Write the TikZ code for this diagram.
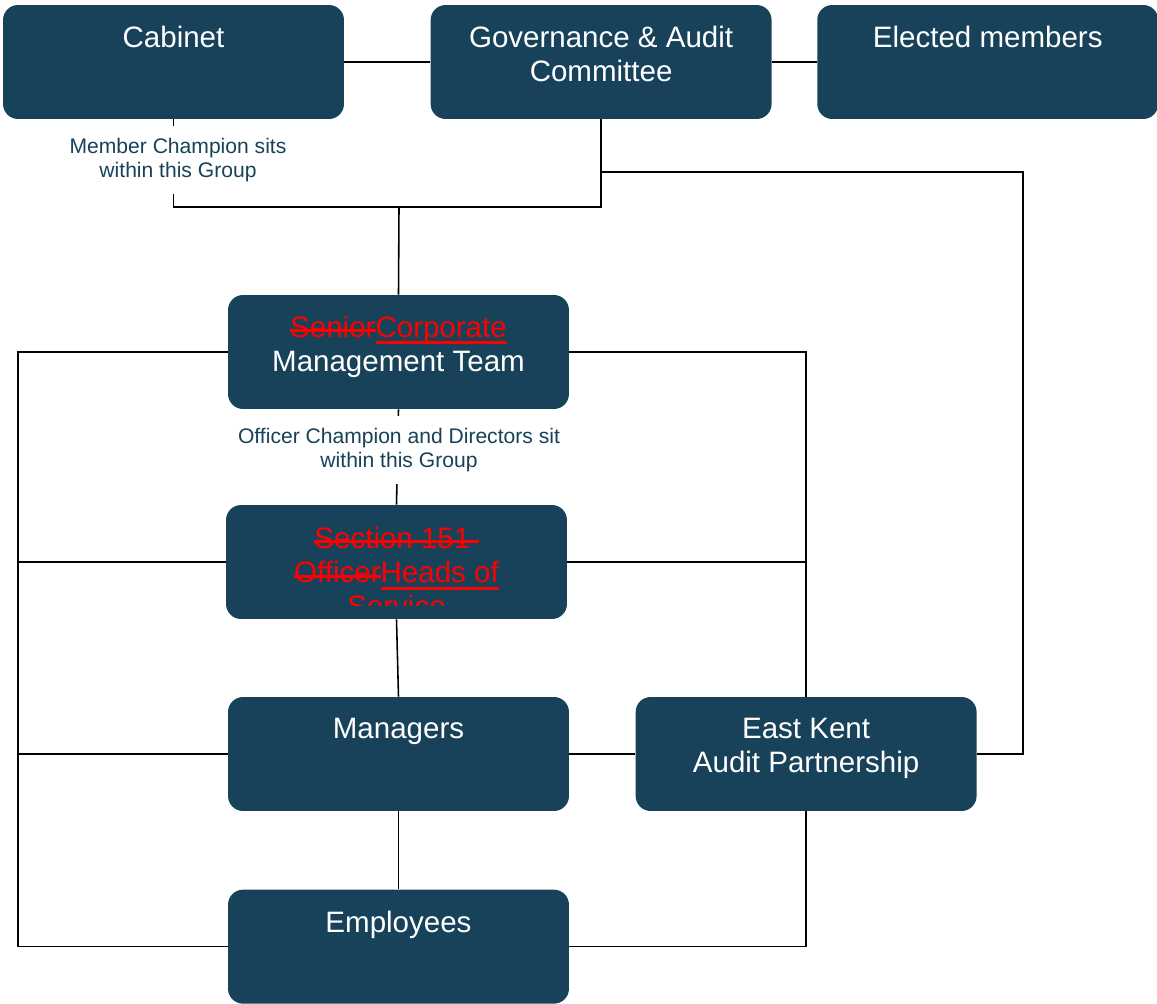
\documentclass[tikz,border=0pt]{standalone}
\usepackage{fontspec}
\setmainfont{Liberation Sans}
\usepackage{tikz}
\usetikzlibrary{positioning}
\definecolor{boxblue}{HTML}{17425A}
\definecolor{markred}{HTML}{FF0000}

% struck out and underlined words of the tracked changes
\newsavebox{\markbox}
\newcommand{\strk}[1]{\sbox{\markbox}{#1}\rlap{\rule[0.18em]{\wd\markbox}{1.7pt}}\usebox{\markbox}}
\newcommand{\undl}[1]{\sbox{\markbox}{#1}\rlap{\rule[-0.23em]{\wd\markbox}{1.7pt}}\usebox{\markbox}}

\tikzset{
	box/.style={rectangle, rounded corners=0.3cm, fill=boxblue, text=white,
		minimum width=6.82cm, minimum height=2.28cm, inner sep=0pt,
		font=\fontsize{16.8}{19.4}\selectfont,
		execute at begin node={\begin{minipage}[t][1.44cm][t]{6.6cm}\centering},
		execute at end node={\end{minipage}}},
	note/.style={fill=white, text=boxblue, align=center, inner sep=0.25cm,
		font=\fontsize{12}{13.6}\selectfont},
	redtext/.style={text=markred, align=center, inner sep=0pt,
		font=\fontsize{16.8}{19.4}\selectfont},
	link/.style={draw=black, line width=0.9pt}
}

\begin{document}
\begin{tikzpicture}[x=0.02cm, y=-0.02cm]
			\useasboundingbox (0,0) rectangle (1157,1004);
			\node [box] (cabinet) at (173.5,62) {Cabinet};
			\node [box, right=1.72cm of cabinet] (gov) {Governance \& Audit\\Committee};
			\node [box, right=0.9cm of gov] (elected) {Elected members};
			\node [box] (cmt) at (398.5,352) {\textcolor{markred}{\strk{Senior}\undl{Corporate}}\\Management Team};
			\node [box] (heads) at (396.5,562) {};
			\node [box] (managers) at (398.5,754) {Managers};
			\node [box, right=1.32cm of managers] (ekap) {East Kent\\Audit Partnership};
			\node [box, below=1.56cm of managers] (employees) {Employees};
			%
			\begin{scope}
				\clip (heads.north west) rectangle ([yshift=0.28cm]heads.south east);
				\node [redtext, anchor=north] (headstext) at (396.5,527) {\strk{Section 151\ }\\\strk{Officer}\undl{Heads of}\\\undl{Service}};
			\end{scope}
			%
			\coordinate (join) at (399,207);
			\coordinate (rbus) at (1023,172);
			\coordinate (lbus) at (18,600);
			%
			\draw [link] (cabinet) -- (gov);
			\draw [link] (gov) -- (elected);
			\draw [link] (cabinet.south) |- (join) -| (gov.south);
			\draw [link] (join) -- (cmt.north);
			\draw [link] (gov.south |- rbus) -- (rbus) |- (ekap.east);
			\draw [link] (cmt.west) -| (lbus) |- (employees.west);
			\draw [link] (heads.west) -- (heads.west -| lbus);
			\draw [link] (managers.west) -- (managers.west -| lbus);
			\draw [link] (cmt.east) -| (ekap.north);
			\draw [link] (heads.east) -- (heads.east -| ekap.north);
			\draw [link] (cmt.south) -- (heads.north);
			\draw [link] (heads.south) -- (managers.north);
			\draw [link] (managers) -- (ekap);
			\draw [link] (managers.south) -- (employees.north);
			\draw [link] (ekap.south) |- (employees.east);
			%
			\node [note] (membernote) at (178,160) {Member Champion sits\\within this Group};
			\node [note] (officernote) at (399,450) {Officer Champion and Directors sit\\within this Group};
\end{tikzpicture}
\end{document}
